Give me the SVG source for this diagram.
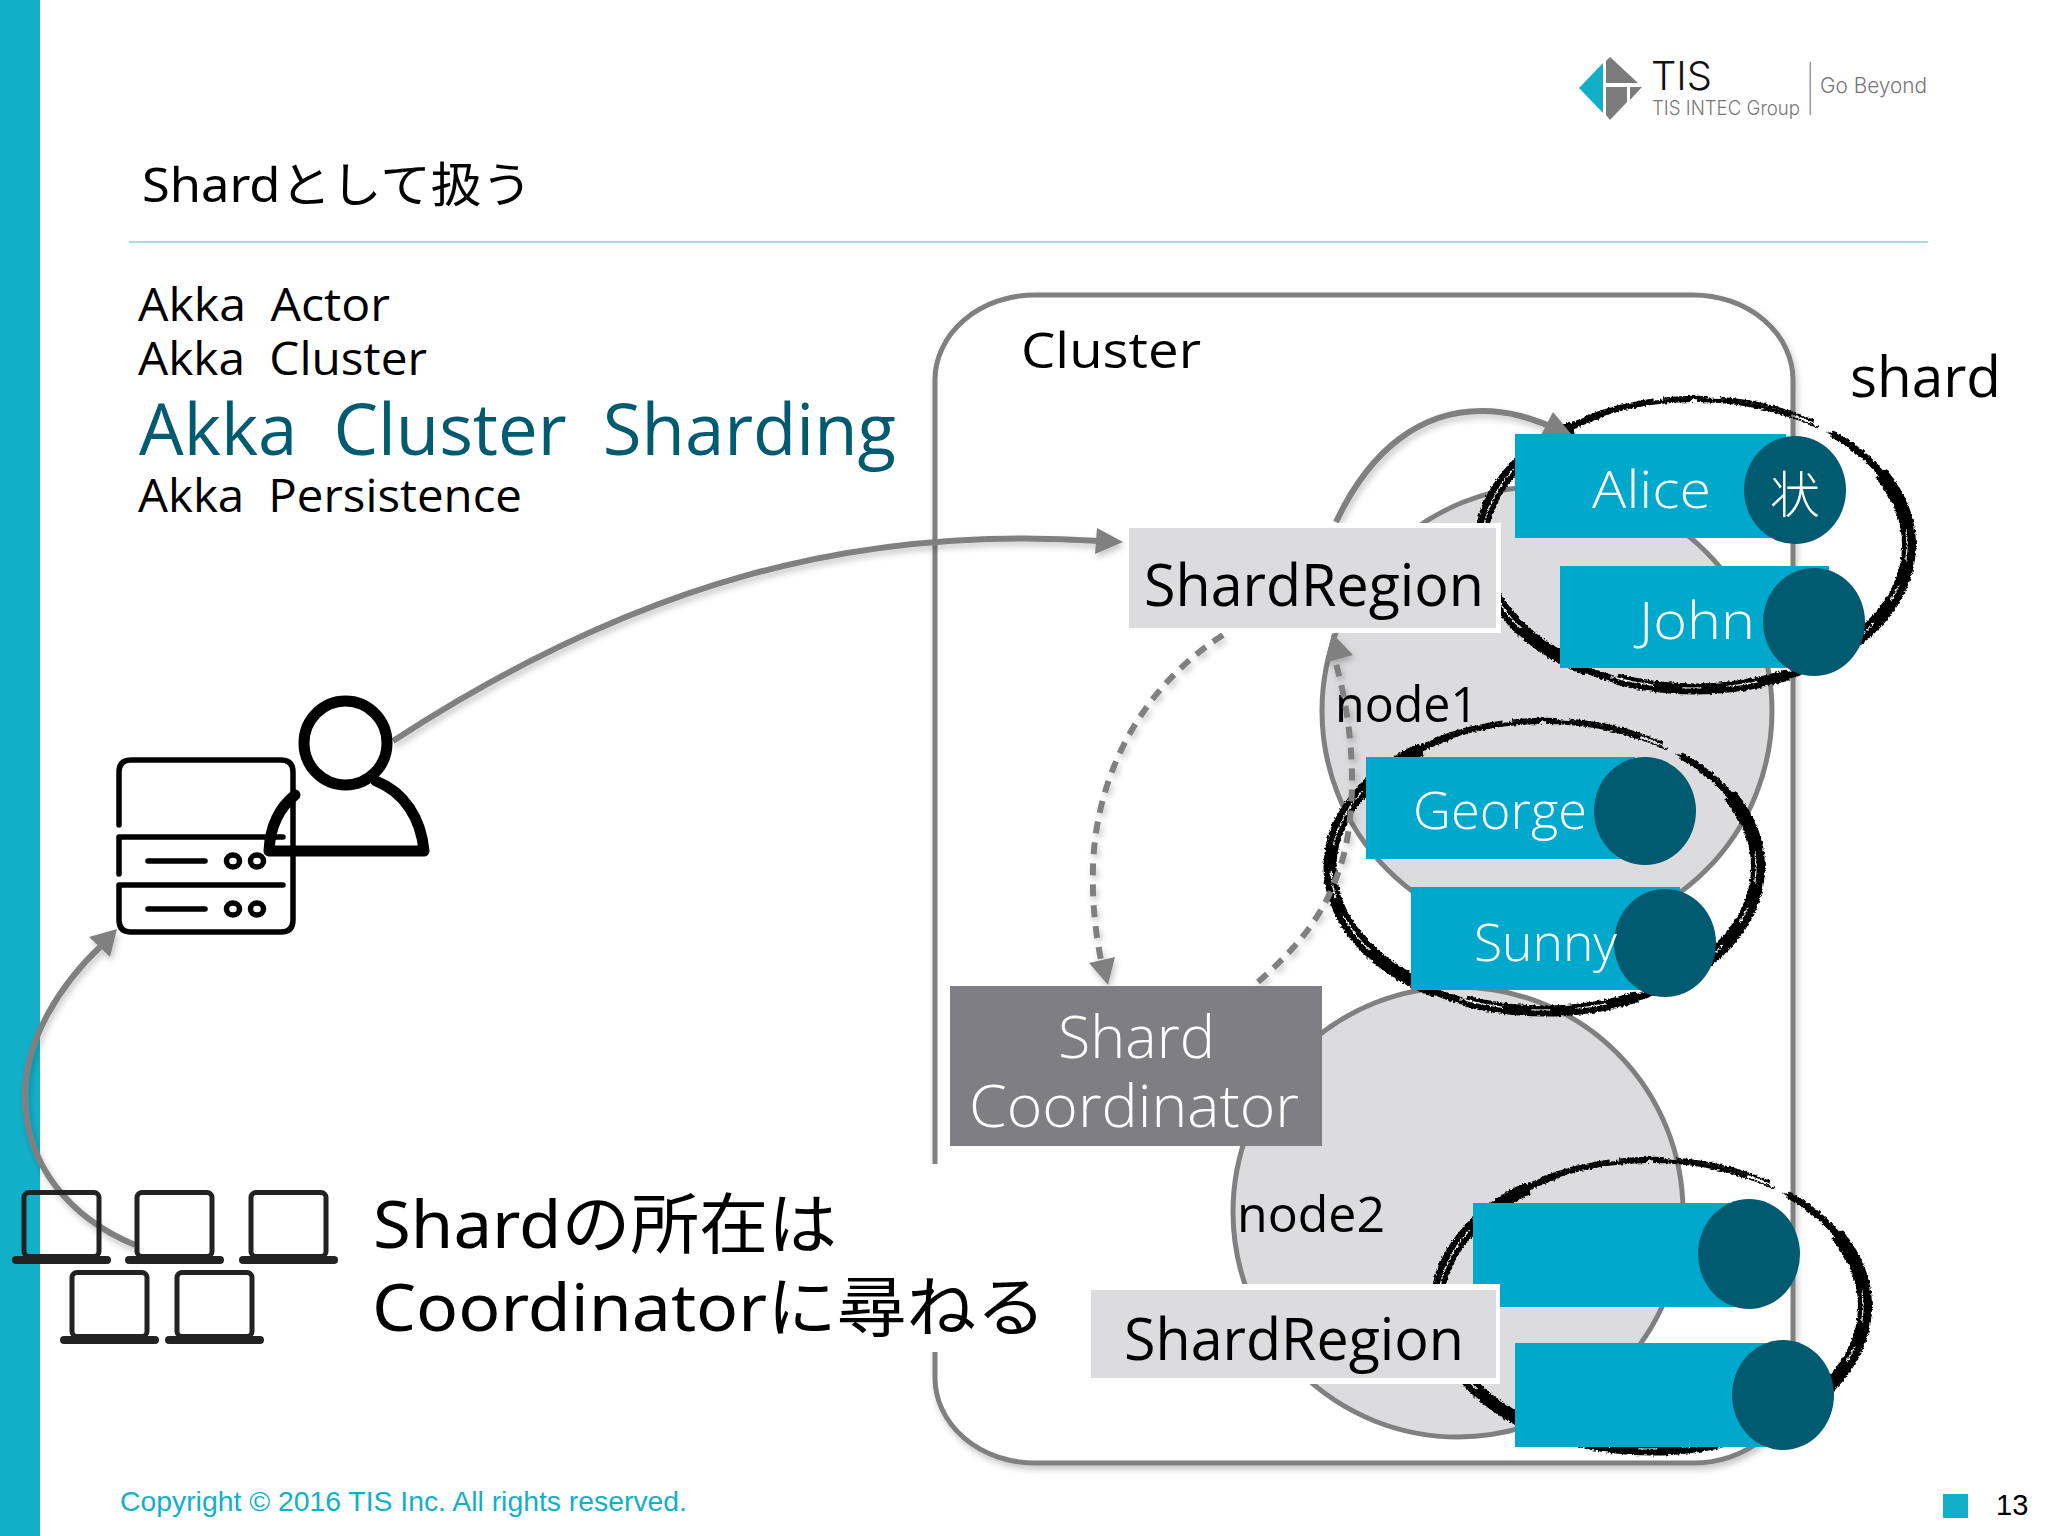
<svg xmlns="http://www.w3.org/2000/svg" xmlns:xlink="http://www.w3.org/1999/xlink" width="2048" height="1536" viewBox="0 0 2048 1536">
<style>
text{font-family:"Open Sans","Noto Sans CJK JP",sans-serif;font-weight:400;fill:#000}
.cjk{font-family:"Noto Sans","Noto Sans CJK JP",sans-serif}
.w{fill:#fff;font-weight:300}
.tech{word-spacing:.25em}
.logo{font-family:"Inter","Liberation Sans",sans-serif;font-weight:300;fill:#777}
.foot{font-family:"Liberation Sans",sans-serif;font-weight:400}
.node{fill:#dcdcde;stroke:#808080;stroke-width:5}
.blue{fill:#00a8cc}
.dark{fill:#005a70}
.region{fill:#dcdcde}
.arrow{fill:none;stroke:#808080;stroke-width:6}
.dash{stroke-dasharray:12 9}
.head{fill:#808080}
.ln{fill:none;stroke:#000;stroke-width:5.5;stroke-linecap:round;stroke-linejoin:round}
.b{fill:none;stroke:#000}
.s{fill:none;stroke:#fff}
</style>
<defs>
<filter id="sh" x="-10%" y="-10%" width="120%" height="120%"><feDropShadow dx="2" dy="4" stdDeviation="3" flood-color="#000" flood-opacity=".22"/></filter>
<filter id="rough" x="-10%" y="-10%" width="120%" height="120%"><feTurbulence type="fractalNoise" baseFrequency=".4" numOctaves="2" seed="4"/><feDisplacementMap in="SourceGraphic" scale="4" xChannelSelector="R" yChannelSelector="G"/></filter>
<g id="brush" filter="url(#rough)">
<ellipse class="b" rx="214" ry="145" pathLength="360" stroke-width="7" stroke-dasharray="285 75" stroke-dashoffset="45"/>
<ellipse class="b" rx="214" ry="144" pathLength="360" stroke-width="14" stroke-dasharray="65 295" stroke-dashoffset="25"/>
<ellipse class="b" rx="214" ry="144" pathLength="360" stroke-width="11" stroke-dasharray="55 305" stroke-dashoffset="-60"/>
<ellipse class="b" rx="214" ry="144" pathLength="360" stroke-width="13" stroke-dasharray="105 255" stroke-dashoffset="-125"/>
<ellipse class="b" rx="214" ry="145" pathLength="360" stroke-width="4" stroke-dasharray="34 2 30 294" stroke-dashoffset="-235"/>
<ellipse class="b" rx="217" ry="148" pathLength="360" stroke-width="2.500" stroke-dasharray="22 3 14 4 30 287" stroke-dashoffset="-235"/>
<ellipse class="b" rx="216" ry="143" pathLength="360" stroke-width="1.500" stroke-dasharray="12 3 8 3 6 4 4 5 3 312" stroke-dashoffset="-298"/>
<ellipse class="s" rx="213" ry="145" pathLength="360" stroke-width="1.200" stroke-dasharray="14 6 9 8 20 5 7 291" stroke-dashoffset="-150"/>
<ellipse class="s" rx="215" ry="143" pathLength="360" stroke-width="1.200" stroke-dasharray="10 8 6 9 14 313" stroke-dashoffset="-70"/>
<ellipse class="s" rx="212" ry="146" pathLength="360" stroke-width="1.200" stroke-dasharray="10 8 6 9 14 313" stroke-dashoffset="5"/>
</g>
<g id="laptop"><rect x="12" y="2.500" width="75" height="64" rx="5" fill="none" stroke="#222" stroke-width="5"/><rect y="66" width="99" height="8" rx="4" fill="#222"/></g>
</defs>

<rect width="2048" height="1536" fill="#fff"/>
<rect id="sidebar" width="40" height="1536" fill="#12b0c8"/>

<g id="logo">
<polygon points="1579,88 1603,63 1603,113" fill="#12b0c8"/>
<polygon points="1606,61 1610,57 1638,83 1606,83" fill="#7b7b7b"/>
<polygon points="1606,87 1627,87 1627,102 1610,120 1606,115" fill="#7b7b7b"/>
<polygon points="1630,87 1642,87 1630,100" fill="#7b7b7b"/>
<text class="logo" x="1651" y="90" font-size="39" textLength="61" lengthAdjust="spacingAndGlyphs" style="fill:#111">TIS</text>
<text class="logo" x="1652" y="115" font-size="20" textLength="148" lengthAdjust="spacingAndGlyphs">TIS INTEC Group</text>
<rect x="1809.500" y="62" width="1.500" height="53" fill="#999"/>
<text class="logo" x="1820" y="93" font-size="21" textLength="107" lengthAdjust="spacingAndGlyphs">Go Beyond</text>
</g>

<text id="title" class="cjk" x="142" y="202" font-size="48" textLength="390" lengthAdjust="spacingAndGlyphs">Shardとして扱う</text>
<rect id="divider" x="129" y="241" width="1799" height="2" fill="#a8dce6"/>

<g id="tech-list">
<text class="tech" x="138" y="321" font-size="46" textLength="252" lengthAdjust="spacingAndGlyphs">Akka Actor</text>
<text class="tech" x="138" y="375" font-size="46" textLength="289" lengthAdjust="spacingAndGlyphs">Akka Cluster</text>
<text class="tech" x="139" y="455" font-size="72" textLength="757" lengthAdjust="spacingAndGlyphs" style="fill:#005a70">Akka Cluster Sharding</text>
<text class="tech" x="138" y="512" font-size="46" textLength="384" lengthAdjust="spacingAndGlyphs">Akka Persistence</text>
</g>

<g id="cluster">
<rect x="935" y="295" width="858" height="1168" rx="100" ry="85" fill="#fff" stroke="#808080" stroke-width="5" filter="url(#sh)"/>
<text x="1021" y="368" font-size="50" textLength="180" lengthAdjust="spacingAndGlyphs">Cluster</text>
</g>

<g id="note">
<rect x="370" y="1164" width="575" height="188" fill="#fff"/>
<text class="cjk" x="373" y="1248" font-size="66" textLength="464" lengthAdjust="spacingAndGlyphs">Shardの所在は</text>
<text class="cjk" x="372" y="1331" font-size="66" textLength="674" lengthAdjust="spacingAndGlyphs">Coordinatorに尋ねる</text>
</g>

<g id="node1">
<circle class="node" cx="1547" cy="711" r="225"/>
<text x="1335" y="722" font-size="50" textLength="143" lengthAdjust="spacingAndGlyphs">node1</text>
</g>
<g id="node2">
<circle class="node" cx="1458" cy="1212" r="225"/>
<text x="1237" y="1232" font-size="50" textLength="148" lengthAdjust="spacingAndGlyphs">node2</text>
</g>

<g id="shard-label"><text x="1850" y="397" font-size="56" textLength="151" lengthAdjust="spacingAndGlyphs">shard</text></g>

<g id="shard-outlines">
<use href="#brush" xlink:href="#brush" x="1695" y="545"/>
<use href="#brush" xlink:href="#brush" x="1544" y="867"/>
<use href="#brush" xlink:href="#brush" x="1651" y="1306"/>
</g>

<g id="connectors" filter="url(#sh)">
<path class="arrow" d="M393,741C640,580 860,525 1100,541"/>
<polygon class="head" points="1123,542 1097,528 1095,554"/>
<path class="arrow" d="M135,1245C70,1218 25,1165 25,1095C25,1040 60,985 100,947"/>
<polygon class="head" points="117,929 89,937 110,957"/>
<path class="arrow" d="M1336,522C1370,450 1420,411 1482,411C1510,411 1530,418 1555,428"/>
<polygon class="head" points="1553,412 1572,435 1541,435"/>
<path class="arrow dash" d="M1223,635C1130,695 1095,790 1093,867C1092,900 1095,930 1101,960"/>
<polygon class="head" points="1108,985 1089,963 1115,957"/>
<path class="arrow dash" d="M1258,982C1300,945 1330,910 1345,850C1358,790 1352,720 1335,660"/>
<polygon class="head" points="1332,633 1325,663 1353,655"/>
</g>

<g id="actor-alice"><rect class="blue" x="1515" y="434" width="271" height="104"/><ellipse class="dark" cx="1795" cy="490" rx="51" ry="54"/>
<text class="w" x="1592" y="508" font-size="52" textLength="119" lengthAdjust="spacingAndGlyphs">Alice</text>
<text class="w cjk" x="1770" y="513" font-size="50">状</text></g>
<g id="actor-john"><rect class="blue" x="1560" y="566" width="269" height="102"/><ellipse class="dark" cx="1814" cy="622" rx="51" ry="54"/>
<text class="w" x="1639" y="639" font-size="52" textLength="116" lengthAdjust="spacingAndGlyphs">John</text></g>
<g id="actor-george"><rect class="blue" x="1366" y="757" width="269" height="102"/><ellipse class="dark" cx="1645" cy="811" rx="51" ry="54"/>
<text class="w" x="1413" y="829" font-size="52" textLength="174" lengthAdjust="spacingAndGlyphs">George</text></g>
<g id="actor-sunny"><rect class="blue" x="1411" y="887" width="269" height="103"/><ellipse class="dark" cx="1665" cy="943" rx="51" ry="54"/>
<text class="w" x="1474" y="961" font-size="52" textLength="143" lengthAdjust="spacingAndGlyphs">Sunny</text></g>
<g id="actor-3"><rect class="blue" x="1473" y="1203" width="267" height="104"/><ellipse class="dark" cx="1749" cy="1254" rx="51" ry="55"/></g>
<g id="actor-4"><rect class="blue" x="1515" y="1343" width="271" height="104"/><ellipse class="dark" cx="1783" cy="1395" rx="51" ry="55"/></g>

<g id="shardregion-1"><rect x="1127" y="523" width="374" height="110" fill="#fff"/><rect class="region" x="1129" y="528" width="367" height="100"/>
<text x="1144" y="606" font-size="58" textLength="340" lengthAdjust="spacingAndGlyphs">ShardRegion</text></g>
<g id="shardregion-2"><rect x="1091" y="1284" width="409" height="100" fill="#fff"/><rect class="region" x="1091" y="1290" width="405" height="88"/>
<text x="1124" y="1360" font-size="58" textLength="340" lengthAdjust="spacingAndGlyphs">ShardRegion</text></g>
<g id="coordinator"><rect x="950" y="986" width="372" height="160" fill="#7f7f83"/>
<text class="w" x="1058" y="1058" font-size="58" textLength="157" lengthAdjust="spacingAndGlyphs">Shard</text>
<text class="w" x="969" y="1127" font-size="58" textLength="330" lengthAdjust="spacingAndGlyphs">Coordinator</text></g>

<g id="server">
<path class="ln" d="M119,825V772Q119,760 131,760H281Q293,760 293,772V920Q293,932 281,932H131Q119,932 119,920V885H283"/>
<path class="ln" d="M119,874V837H283"/>
<path class="ln" d="M148,861H205M148,909H205"/>
<ellipse class="ln" cx="233" cy="861" rx="6.500" ry="6"/><ellipse class="ln" cx="257" cy="861" rx="6.500" ry="6"/>
<ellipse class="ln" cx="233" cy="909" rx="6.500" ry="6"/><ellipse class="ln" cx="257" cy="909" rx="6.500" ry="6"/>
</g>
<g id="user">
<ellipse class="ln" style="stroke-width:11" cx="345.500" cy="743" rx="41.500" ry="42"/>
<path class="ln" style="stroke-width:11" d="M295,795C279,808 270,828 269,851H424C421,818 404,792 376,781"/>
</g>
<g id="clients">
<use href="#laptop" xlink:href="#laptop" x="12" y="1190"/>
<use href="#laptop" xlink:href="#laptop" x="125" y="1190"/>
<use href="#laptop" xlink:href="#laptop" x="239" y="1190"/>
<use href="#laptop" xlink:href="#laptop" x="60" y="1270"/>
<use href="#laptop" xlink:href="#laptop" x="165" y="1270"/>
</g>

<g id="footer">
<text class="foot" x="120" y="1511" font-size="28" textLength="567" lengthAdjust="spacingAndGlyphs" style="fill:#12b0c8">Copyright © 2016 TIS Inc. All rights reserved.</text>
<rect x="1943" y="1494" width="25" height="24" fill="#12b0c8"/>
<text class="foot" x="1996" y="1515" font-size="29">13</text>
</g>
</svg>
